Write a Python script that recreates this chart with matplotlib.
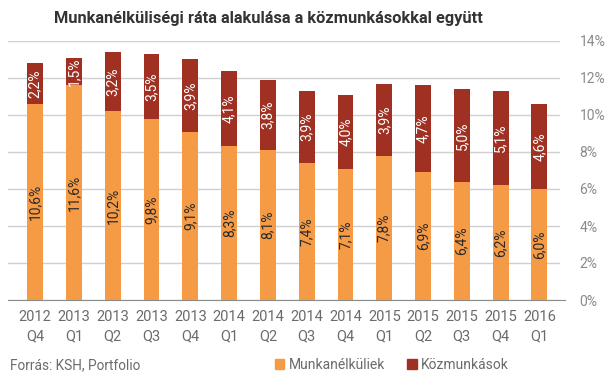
import matplotlib
matplotlib.use("Agg")
import matplotlib.pyplot as plt
from matplotlib.patches import Patch

plt.rcParams['font.family'] = ['Roboto', 'DejaVu Sans']

# quarters on the x axis
labels = ['2012\nQ4', '2013\nQ1', '2013\nQ2', '2013\nQ3', '2013\nQ4', '2014\nQ1', '2014\nQ2',
          '2014\nQ3', '2014\nQ4', '2015\nQ1', '2015\nQ2', '2015\nQ3', '2015\nQ4', '2016\nQ1']
munkanelkuli = [10.6, 11.6, 10.2, 9.8, 9.1, 8.3, 8.1, 7.4, 7.1, 7.8, 6.9, 6.4, 6.2, 6.0]
kozmunkas = [2.2, 1.5, 3.2, 3.5, 3.9, 4.1, 3.8, 3.9, 4.0, 3.9, 4.7, 5.0, 5.1, 4.6]
yticks = [0, 2, 4, 6, 8, 10, 12, 14]

orange = '#F59B45'
red = '#A03022'

fig = plt.figure(figsize=(6.05, 3.78), dpi=100)
ax = fig.add_axes([8/605, 78/378, 552/605, 259/378])

x = list(range(len(labels)))
w = 0.41
b1 = ax.bar(x, munkanelkuli, w, color=orange, zorder=2)
b2 = ax.bar(x, kozmunkas, w, bottom=munkanelkuli, color=red, zorder=2)

def fmt(v):
    return ('%.1f%%' % v).replace('.', ',')

ax.bar_label(b1, labels=[fmt(v) for v in munkanelkuli], label_type='center',
             rotation=90, color='#2a2a2a', fontsize=10)
ax.bar_label(b2, labels=[fmt(v) for v in kozmunkas], label_type='center',
             rotation=90, color='white', fontsize=10)

ax.set_xlim(-0.7, 13.53)
ax.set_ylim(0, 14)
ax.set_yticks(yticks)
ax.set_yticklabels(['%d%%' % t for t in yticks])
ax.yaxis.tick_right()
ax.set_xticks(x)
ax.set_xticklabels(labels, linespacing=1.5)
ax.tick_params(axis='y', length=0, labelsize=10, labelcolor='#8a8a8a', pad=14)
ax.tick_params(axis='x', length=0, labelsize=10.5, labelcolor='#6b6b6b', pad=7)
ax.grid(axis='y', color='#d0d0d0', linewidth=1, zorder=0)
for s in ['left', 'right', 'top']:
    ax.spines[s].set_visible(False)
ax.spines['bottom'].set_color('#8a8a8a')
ax.spines['bottom'].set_bounds(-0.7, 13.65)

fig.text(268/605, 1 - 18/378, 'Munkanélküliségi ráta alakulása a közmunkásokkal együtt',
         ha='center', va='center', fontsize=11.8, fontweight='bold', color='#333333')
fig.text(10/605, 1 - 365/378, 'Forrás: KSH, Portfolio', ha='left', va='center',
         fontsize=9.8, color='#6b6b6b')

handles = [Patch(color=orange), Patch(color=red)]
fig.legend(handles, ['Munkanélküliek', 'Közmunkások'], loc='center left',
           bbox_to_anchor=(262/605, 1 - 365/378), ncol=2, frameon=False,
           handlelength=0.7, handleheight=0.7, handletextpad=0.3, columnspacing=1.6,
           fontsize=10, labelcolor='#6b6b6b')

fig.savefig('out.png', dpi=100)
